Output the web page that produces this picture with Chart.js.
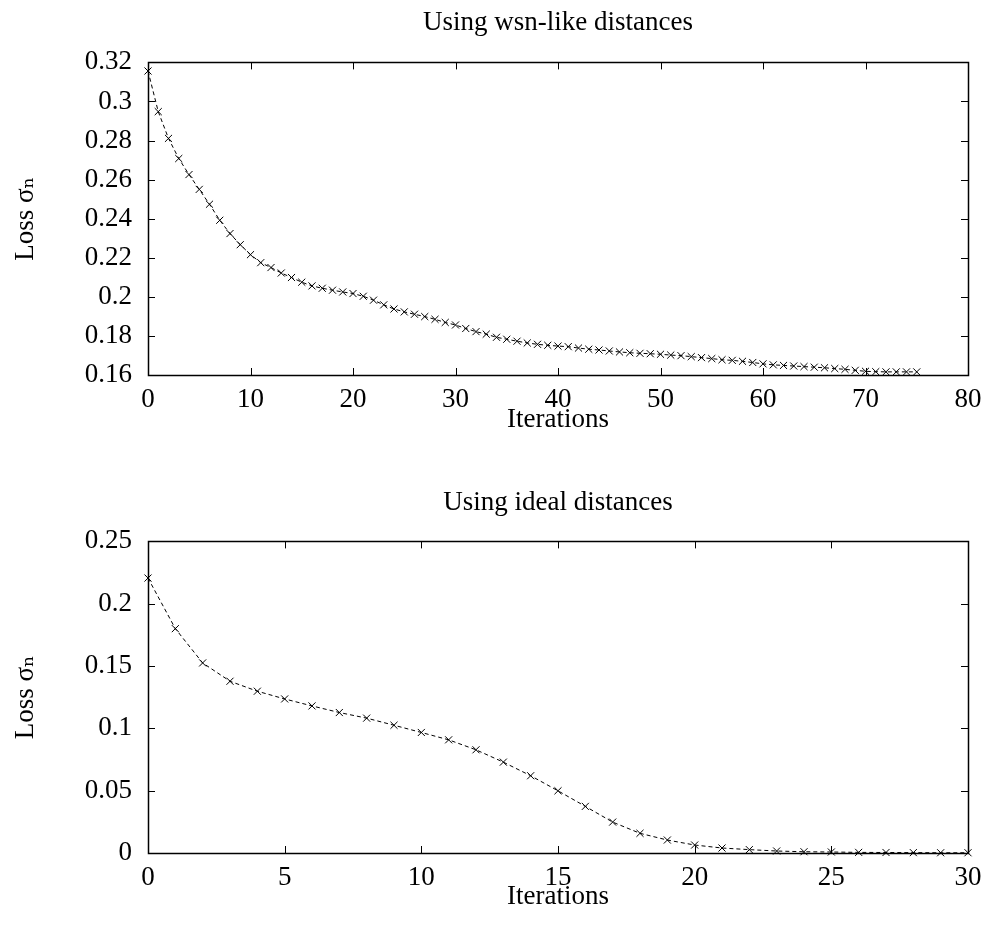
<!DOCTYPE html>
<html>
<head>
<meta charset="utf-8">
<script src="https://cdn.jsdelivr.net/npm/chart.js@4.4.1/dist/chart.umd.min.js"></script>
<style>
  body { margin: 0; background: #fff; }
  canvas { display: block; }
</style>
</head>
<body>
<canvas id="wsnChart" width="993" height="467"></canvas>
<canvas id="idealChart" width="993" height="467"></canvas>
<script>
// Top plot: wsn-like distances
const wsnIter = [0, 1, 2, 3, 4, 5, 6, 7, 8, 9, 10, 11, 12, 13, 14, 15, 16, 17, 18, 19,
  20, 21, 22, 23, 24, 25, 26, 27, 28, 29, 30, 31, 32, 33, 34, 35, 36, 37, 38, 39,
  40, 41, 42, 43, 44, 45, 46, 47, 48, 49, 50, 51, 52, 53, 54, 55, 56, 57, 58, 59,
  60, 61, 62, 63, 64, 65, 66, 67, 68, 69, 70, 71, 72, 73, 74, 75];
const wsnLoss = [0.3156, 0.2948, 0.2811, 0.2708, 0.2626, 0.2550, 0.2474, 0.2392, 0.2324, 0.2267,
  0.2216, 0.2175, 0.2150, 0.2122, 0.2099, 0.2075, 0.2056, 0.2044, 0.2034, 0.2025,
  0.2017, 0.2003, 0.1983, 0.1959, 0.1938, 0.1923, 0.1911, 0.1899, 0.1885, 0.1869,
  0.1856, 0.1838, 0.1822, 0.1809, 0.1793, 0.1783, 0.1773, 0.1764, 0.1757, 0.1752,
  0.1748, 0.1745, 0.1738, 0.1732, 0.1728, 0.1723, 0.1718, 0.1714, 0.1711, 0.1709,
  0.1706, 0.1702, 0.1699, 0.1694, 0.1689, 0.1684, 0.1678, 0.1675, 0.1670, 0.1664,
  0.1657, 0.1652, 0.1649, 0.1646, 0.1643, 0.1640, 0.1637, 0.1633, 0.1629, 0.1624,
  0.1619, 0.1617, 0.1616, 0.1616, 0.1616, 0.1616];
const wsnXTicks = [0, 10, 20, 30, 40, 50, 60, 70, 80];
const wsnYTicks = [0.16, 0.18, 0.2, 0.22, 0.24, 0.26, 0.28, 0.3, 0.32];

// Bottom plot: ideal distances
const idealIter = [0, 1, 2, 3, 4, 5, 6, 7, 8, 9, 10, 11, 12, 13, 14, 15,
  16, 17, 18, 19, 20, 21, 22, 23, 24, 25, 26, 27, 28, 29, 30];
const idealLoss = [0.2206, 0.1800, 0.1525, 0.1378, 0.1298, 0.1236, 0.1180, 0.1127, 0.1082, 0.1025,
  0.0967, 0.0908, 0.0828, 0.0729, 0.0620, 0.0499, 0.0374, 0.0248, 0.0158, 0.0104,
  0.0064, 0.0040, 0.0027, 0.0016, 0.0010, 0.0008, 0.0005, 0.0004, 0.0003, 0.0002, 0.0002];
const idealXTicks = [0, 5, 10, 15, 20, 25, 30];
const idealYTicks = [0, 0.05, 0.1, 0.15, 0.2, 0.25];

const FONT = "'Liberation Serif', 'DejaVu Serif', serif";
const FSIZE = 27;

// gnuplot style frame with inward ticks on all four sides
const frameTicks = {
  id: 'frameTicks',
  afterDraw(chart) {
    const { ctx, chartArea: a, scales: { x, y } } = chart;
    const len = 7;
    ctx.save();
    ctx.strokeStyle = '#000';
    ctx.lineWidth = 1;
    ctx.beginPath();
    x.ticks.forEach(t => {
      const px = Math.round(x.getPixelForValue(t.value)) + 0.5;
      ctx.moveTo(px, a.bottom); ctx.lineTo(px, a.bottom - len);
      ctx.moveTo(px, a.top); ctx.lineTo(px, a.top + len);
    });
    y.ticks.forEach(t => {
      const py = Math.round(y.getPixelForValue(t.value)) + 0.5;
      ctx.moveTo(a.left, py); ctx.lineTo(a.left + len, py);
      ctx.moveTo(a.right, py); ctx.lineTo(a.right - len, py);
    });
    ctx.stroke();
    ctx.lineWidth = 1.5;
    ctx.strokeRect(Math.round(a.left) + 0.5, Math.round(a.top) + 0.5,
      Math.round(a.right - a.left), Math.round(a.bottom - a.top));
    ctx.restore();
  }
};

function makeChart(id, iters, loss, xTicks, yTicks, title, lay) {
  const ctx = document.getElementById(id);
  return new Chart(ctx, {
    type: 'line',
    data: {
      datasets: [{
        data: iters.map((it, i) => ({ x: it, y: loss[i] })),
        borderColor: '#000',
        borderWidth: 1,
        borderDash: [4, 3],
        tension: 0,
        fill: false,
        pointStyle: 'crossRot',
        pointRadius: 5,
        pointBorderWidth: 1,
        pointBorderColor: '#000',
        clip: false
      }]
    },
    options: {
      responsive: false,
      animation: false,
      events: [],
      layout: { padding: { left: 0, right: 25, top: 0, bottom: 0 } },
      plugins: {
        legend: { display: false },
        tooltip: { enabled: false },
        title: {
          display: true,
          fullSize: false,
          text: title,
          color: '#000',
          font: { family: FONT, size: FSIZE, weight: 'normal', lineHeight: 1.2 },
          padding: { top: lay.titleTop, bottom: lay.titleBottom }
        }
      },
      scales: {
        x: {
          type: 'linear',
          min: xTicks[0],
          max: xTicks[xTicks.length - 1],
          afterBuildTicks: s => { s.ticks = xTicks.map(v => ({ value: v })); },
          afterFit: s => { s.height = lay.xHeight; },
          grid: { display: false, drawTicks: false },
          border: { display: false },
          ticks: {
            color: '#000',
            padding: 9,
            maxRotation: 0,
            font: { family: FONT, size: FSIZE },
            callback: v => String(v)
          },
          title: {
            display: true,
            text: 'Iterations',
            color: '#000',
            font: { family: FONT, size: FSIZE, lineHeight: 1.2 },
            padding: { top: 0, bottom: lay.xTitleBottom }
          }
        },
        y: {
          type: 'linear',
          min: yTicks[0],
          max: yTicks[yTicks.length - 1],
          afterBuildTicks: s => { s.ticks = yTicks.map(v => ({ value: v })); },
          afterFit: s => { s.width = 148; },
          grid: { display: false, drawTicks: false },
          border: { display: false },
          ticks: {
            color: '#000',
            padding: 16,
            font: { family: FONT, size: FSIZE },
            callback: v => String(v)
          },
          title: {
            display: true,
            text: 'Loss σₙ',
            color: '#000',
            font: { family: FONT, size: FSIZE, lineHeight: 1.2 },
            padding: { top: 10, bottom: 0 }
          }
        }
      }
    },
    plugins: [frameTicks]
  });
}

makeChart('wsnChart', wsnIter, wsnLoss, wsnXTicks, wsnYTicks, 'Using wsn-like distances',
  { titleTop: 7, titleBottom: 23, xHeight: 92, xTitleBottom: 31 });
makeChart('idealChart', idealIter, idealLoss, idealXTicks, idealYTicks, 'Using ideal distances',
  { titleTop: 20, titleBottom: 22, xHeight: 81, xTitleBottom: 21 });
</script>
</body>
</html>
